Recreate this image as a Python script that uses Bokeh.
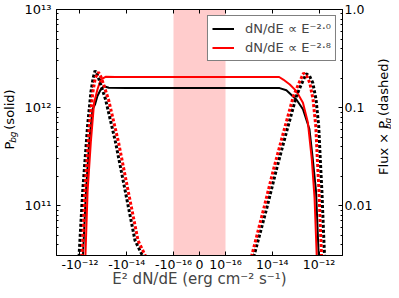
import numpy as np
from bokeh.plotting import figure
from bokeh.layouts import row
from bokeh.models import (Range1d, LogScale, LogAxis, LinearAxis, FixedTicker,
                          BoxAnnotation, Label, Legend, LegendItem)
from bokeh.embed import file_html
from bokeh.resources import INLINE

# ---------------- data ----------------
flux_ticks = [-1e-12, -1e-14, -1e-16, 0.0, 1e-16, 1e-14, 1e-12]
flux_tick_labels = ["-10⁻¹²", "-10⁻¹⁴", "-10⁻¹⁶", "0", "10⁻¹⁶", "10⁻¹⁴", "10⁻¹²"]
flux_limits = [-1e-11, 1e-11]
band_limits = [-1e-16, 1e-16]

pbg_ticks = [1e11, 1e12, 1e13]
pbg_tick_labels = ["10¹¹", "10¹²", "10¹³"]
pbg_limits = [3.1e10, 1e13]

fp_ticks = [0.01, 0.1, 1.0]
fp_tick_labels = ["0.01", "0.1", "1.0"]
fp_limits = [3.1e-3, 1.0]

series_labels = ["dN/dE ∝ E⁻²·⁰", "dN/dE ∝ E⁻²·⁸"]

# P_bg, dN/dE ~ E^-2.0 (solid black)
pbg20_flux = [-7.7e-13, -7.4e-13, -5.5e-13, -4.0e-13, -2.88e-13, -2.24e-13, -1.78e-13,
              -1.29e-13, -9.4e-14, -5.8e-14, -1e-14, -1e-15, 0.0, 1e-15, 1e-14, 2.06e-14,
              4.0e-14, 7.7e-14, 1.07e-13, 2.04e-13, 3.85e-13, 5.36e-13, 7.4e-13, 9.6e-13, 1.0e-12]
pbg20 = [2.5e10, 3.1e10, 1.4e11, 4.5e11, 9.6e11, 1.08e12, 1.31e12,
         1.53e12, 1.65e12, 1.59e12, 1.58e12, 1.58e12, 1.58e12, 1.58e12, 1.58e12, 1.58e12,
         1.50e12, 1.30e12, 1.21e12, 9.6e11, 6.05e11, 3.0e11, 1.4e11, 3.1e10, 2.2e10]

# P_bg, dN/dE ~ E^-2.8 (solid red)
pbg28_flux = [-6.0e-13, -5.8e-13, -4.69e-13, -3.4e-13, -2.47e-13, -1.78e-13, -1.29e-13,
              -8.0e-14, -3e-14, -1e-15, 0.0, 1e-15, 1.96e-14, 2.94e-14, 5.6e-14, 1.07e-13,
              2.04e-13, 3.3e-13, 4.86e-13, 6.4e-13, 7.9e-13, 8.1e-13]
pbg28 = [2.4e10, 3.1e10, 1.4e11, 4.5e11, 1.12e12, 1.53e12, 1.93e12,
         2.06e12, 2.05e12, 2.05e12, 2.05e12, 2.05e12, 2.05e12, 1.93e12, 1.72e12, 1.47e12,
         1.12e12, 7.1e11, 3.0e11, 1.19e11, 3.1e10, 2.2e10]

# Flux x P_bg, dN/dE ~ E^-2.0 (dotted black); NaN separates the two branches
fp20_flux = [-1.09e-12, -7.6e-13, -4.69e-13, -3.4e-13, -2.72e-13, -2.24e-13, -1.78e-13,
             -1.29e-13, -8.0e-14, -3.03e-14, -1.15e-14, -4.4e-15, -2.0e-15, np.nan,
             1.61e-15, 5.85e-15, 1.54e-14, 4.04e-14, 1.07e-13, 1.73e-13, 2.8e-13, 3.85e-13,
             5.36e-13, 7.4e-13, 9.6e-13, 1.12e-12, 1.32e-12, 1.5e-12, 1.71e-12]
fp20 = [0.003, 0.014, 0.065, 0.143, 0.20, 0.238, 0.216,
        0.172, 0.121, 0.0448, 0.014, 0.0044, 0.003, np.nan,
        0.003, 0.0095, 0.0239, 0.0564, 0.131, 0.172, 0.221, 0.211,
        0.179, 0.121, 0.065, 0.030, 0.0139, 0.0064, 0.003]

# Flux x P_bg, dN/dE ~ E^-2.8 (dotted red)
fp28_flux = [-8.1e-13, -6.1e-13, -3.94e-13, -2.8e-13, -2.2e-13, -1.61e-13, -1.25e-13,
             -9.7e-14, -6.0e-14, -2.26e-14, -8.6e-15, -3.27e-15, -1.51e-15, np.nan,
             1.28e-15, 4.4e-15, 1.15e-14, 3.03e-14, 8.0e-14, 1.29e-13, 2.16e-13, 2.9e-13,
             4.0e-13, 5.5e-13, 7.2e-13, 8.4e-13, 9.9e-13, 1.12e-12, 1.28e-12]
fp28 = [0.003, 0.014, 0.065, 0.143, 0.20, 0.23, 0.205,
        0.172, 0.121, 0.0448, 0.014, 0.0044, 0.003, np.nan,
        0.003, 0.0095, 0.0239, 0.0564, 0.131, 0.172, 0.225, 0.212,
        0.179, 0.121, 0.065, 0.030, 0.0139, 0.0064, 0.003]

# ---------------- symmetric-log transform for the x axis ----------------
LINTHRESH = 1e-16
LINSCALE = 1.0 / (1.0 - 0.1)


def symlog(v):
    v = np.asarray(v, dtype=float)
    a = np.abs(v)
    with np.errstate(divide="ignore", invalid="ignore"):
        out = np.where(a > LINTHRESH,
                       np.sign(v) * (np.log10(a / LINTHRESH) + LINSCALE),
                       v / LINTHRESH * LINSCALE)
    return out


FONT = "DejaVu Sans"
H = 290

xr = symlog(flux_limits)
p = figure(width=355, height=H,
           x_range=Range1d(float(xr[0]), float(xr[1])),
           y_range=Range1d(*pbg_limits), y_axis_type="log",
           output_backend="svg", toolbar_location=None, title=None,
           min_border_left=36, min_border_right=30, min_border_top=9, min_border_bottom=33)
p.extra_y_ranges = {"fp": Range1d(*fp_limits)}
p.extra_y_scales = {"fp": LogScale()}
p.xgrid.visible = False
p.ygrid.visible = False
p.outline_line_color = "black"
p.outline_line_width = 1
p.background_fill_color = "white"
p.border_fill_color = "white"

# band
bl = symlog(band_limits)
p.add_layout(BoxAnnotation(left=float(bl[0]), right=float(bl[1]), fill_color="#ffcccc",
                           fill_alpha=1.0, line_color=None, level="underlay"))

# curves
r1 = p.line(symlog(pbg20_flux), pbg20, line_color="black", line_width=2)
r2 = p.line(symlog(pbg28_flux), pbg28, line_color="red", line_width=2)
p.line(symlog(fp20_flux), fp20, line_color="black", line_width=3, line_dash="3 2",
       y_range_name="fp")
p.line(symlog(fp28_flux), fp28, line_color="red", line_width=3, line_dash="3 2",
       y_range_name="fp")

# axes
xt = [float(t) for t in symlog(flux_ticks)]
xax = p.xaxis[0]
xax.ticker = FixedTicker(ticks=xt)
xax.major_label_overrides = {t: lab for t, lab in zip(xt, flux_tick_labels)}
xax.axis_label = "E² dN/dE (erg cm⁻² s⁻¹)"


def style_axis(ax, labels=True, size="12.5px", standoff=3):
    ax.axis_line_color = "black"
    ax.major_tick_in = 4
    ax.major_tick_out = 0
    ax.minor_tick_in = 2
    ax.minor_tick_out = 0
    ax.major_tick_line_color = "black"
    ax.minor_tick_line_color = "black"
    ax.major_label_text_font = FONT
    ax.major_label_text_color = "black"
    ax.major_label_standoff = standoff
    ax.major_label_text_font_size = size if labels else "0px"


style_axis(xax, standoff=1)
xax.axis_label_text_font = FONT
xax.axis_label_text_font_size = "15px"
xax.axis_label_text_font_style = "normal"
xax.axis_label_standoff = -5

top = LinearAxis(ticker=FixedTicker(ticks=xt))
style_axis(top, labels=False, standoff=0)
top.major_label_overrides = {t: "" for t in xt}
p.add_layout(top, "above")


def minors(lo, hi):
    out = []
    e = int(np.floor(np.log10(lo)))
    while 10.0 ** e <= hi:
        for m in range(2, 10):
            v = m * 10.0 ** e
            if lo <= v <= hi:
                out.append(v)
        e += 1
    return out


yax = p.yaxis[0]
yax.ticker = FixedTicker(ticks=pbg_ticks, minor_ticks=minors(*pbg_limits))
yax.major_label_overrides = {float(t): lab for t, lab in zip(pbg_ticks, pbg_tick_labels)}
style_axis(yax, size="13px", standoff=5)

rax = LogAxis(y_range_name="fp",
              ticker=FixedTicker(ticks=fp_ticks, minor_ticks=minors(*fp_limits)))
rax.major_label_overrides = {float(t): lab for t, lab in zip(fp_ticks, fp_tick_labels)}
style_axis(rax, size="12.5px", standoff=2)
p.add_layout(rax, "right")

legend = Legend(items=[LegendItem(label=series_labels[0], renderers=[r1]),
                       LegendItem(label=series_labels[1], renderers=[r2])],
                location="top_right", margin=6, padding=4, spacing=2,
                glyph_width=22, glyph_height=17, label_height=17, label_standoff=11,
                label_text_font=FONT, label_text_font_size="13px",
                border_line_color="black", border_line_width=1,
                background_fill_color="white", background_fill_alpha=1.0)
p.add_layout(legend)


# side strips holding the rotated axis titles (with a subscript)
def title_strip(width, x, y0, pieces):
    f = figure(width=width, height=H, x_range=Range1d(0, width), y_range=Range1d(0, H),
               output_backend="svg", toolbar_location=None, title=None,
               x_axis_location=None, y_axis_location=None, min_border=0)
    f.xgrid.visible = False
    f.ygrid.visible = False
    f.outline_line_color = None
    f.background_fill_color = "white"
    f.border_fill_color = "white"
    y = y0
    for text, size, style, dx, adv in pieces:
        f.add_layout(Label(x=x + dx, y=y, text=text, angle=np.pi / 2, text_font=FONT,
                           text_font_size=f"{size}px", text_font_style=style,
                           text_align="left", text_baseline="middle",
                           text_color="black"))
        y += adv
    return f


left = title_strip(20, 8.5, 125, [("P", 13, "normal", 0, 7.8),
                                  ("bg", 9, "italic", 4, 15.5),
                                  ("(solid)", 13, "normal", 0, 0)])
right = title_strip(16, 8, 95, [("Flux × P", 13, "normal", 0, 54.0),
                                ("bg", 9, "italic", 4, 15.5),
                                ("(dashed)", 13, "normal", 0, 0)])

layout = row(left, p, right, spacing=0)
open("out.html", "w").write(file_html(layout, INLINE))
